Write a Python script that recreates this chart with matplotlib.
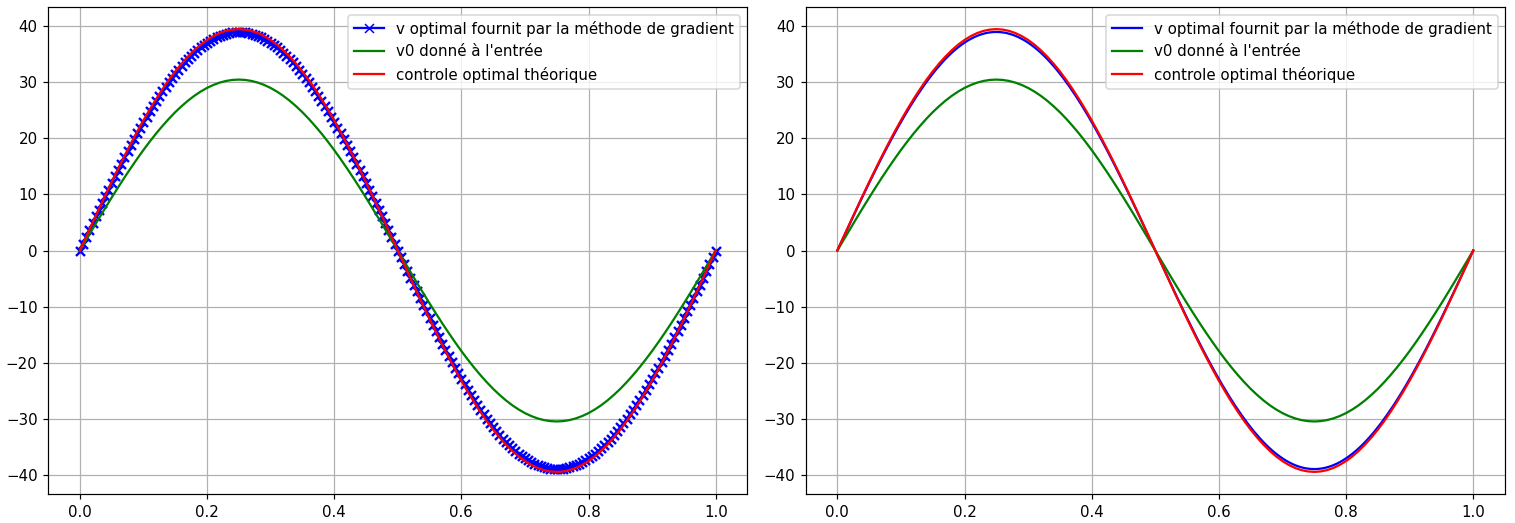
import numpy as np
from matplotlib import pyplot as plt

# abscisses : pas 0.005 pour v optimal, pas 0.01 pour les deux autres
x_fin = np.linspace(0, 1, 201)
x = np.linspace(0, 1, 101)

# v optimal fournit par la methode de gradient
v_opt = [0.0, 1.22, 2.45, 3.67, 4.89, 6.10, 7.31, 8.51, 9.70, 10.88, 12.05, 13.21, 14.36, 15.49, 16.61, 17.71, 18.79, 19.85, 20.90, 21.92, 22.92,
         23.90, 24.86, 25.79, 26.70, 27.58, 28.43, 29.25, 30.05, 30.82, 31.55, 32.26, 32.93, 33.57, 34.18, 34.75, 35.29, 35.79, 36.26, 36.69, 37.09,
         37.45, 37.77, 38.06, 38.31, 38.52, 38.69, 38.83, 38.92, 38.98, 39.00,
         38.98, 38.92, 38.83, 38.69, 38.52, 38.31, 38.06, 37.77, 37.45, 37.09, 36.69, 36.26, 35.79, 35.29, 34.75, 34.18, 33.57, 32.93, 32.26, 31.55,
         30.82, 30.05, 29.25, 28.43, 27.58, 26.70, 25.79, 24.86, 23.90, 22.92, 21.92, 20.90, 19.85, 18.79, 17.71, 16.61, 15.49, 14.36, 13.21, 12.05,
         10.88, 9.70, 8.51, 7.31, 6.10, 4.89, 3.67, 2.45, 1.22, 0.0,
         -1.22, -2.45, -3.67, -4.89, -6.10, -7.31, -8.51, -9.70, -10.88, -12.05, -13.21, -14.36, -15.49, -16.61, -17.71, -18.79, -19.85, -20.90, -21.92, -22.92,
         -23.90, -24.86, -25.79, -26.70, -27.58, -28.43, -29.25, -30.05, -30.82, -31.55, -32.26, -32.93, -33.57, -34.18, -34.75, -35.29, -35.79, -36.26, -36.69, -37.09,
         -37.45, -37.77, -38.06, -38.31, -38.52, -38.69, -38.83, -38.92, -38.98, -39.00,
         -38.98, -38.92, -38.83, -38.69, -38.52, -38.31, -38.06, -37.77, -37.45, -37.09, -36.69, -36.26, -35.79, -35.29, -34.75, -34.18, -33.57, -32.93, -32.26, -31.55,
         -30.82, -30.05, -29.25, -28.43, -27.58, -26.70, -25.79, -24.86, -23.90, -22.92, -21.92, -20.90, -19.85, -18.79, -17.71, -16.61, -15.49, -14.36, -13.21, -12.05,
         -10.88, -9.70, -8.51, -7.31, -6.10, -4.89, -3.67, -2.45, -1.22, 0.0]

# v0 donne a l'entree
v0 = [0.0, 1.92, 3.82, 5.72, 7.59, 9.43, 11.23, 12.99, 14.69, 16.34, 17.93, 19.44, 20.88, 22.23, 23.50, 24.68, 25.75, 26.73, 27.60, 28.36, 29.01, 29.54, 29.96, 30.26, 30.44, 30.50,
      30.44, 30.26, 29.96, 29.54, 29.01, 28.36, 27.60, 26.73, 25.75, 24.68, 23.50, 22.23, 20.88, 19.44, 17.93, 16.34, 14.69, 12.99, 11.23, 9.43, 7.59, 5.72, 3.82, 1.92, 0.0,
      -1.92, -3.82, -5.72, -7.59, -9.43, -11.23, -12.99, -14.69, -16.34, -17.93, -19.44, -20.88, -22.23, -23.50, -24.68, -25.75, -26.73, -27.60, -28.36, -29.01, -29.54, -29.96, -30.26, -30.44, -30.50,
      -30.44, -30.26, -29.96, -29.54, -29.01, -28.36, -27.60, -26.73, -25.75, -24.68, -23.50, -22.23, -20.88, -19.44, -17.93, -16.34, -14.69, -12.99, -11.23, -9.43, -7.59, -5.72, -3.82, -1.92, 0.0]

# controle optimal theorique
u_th = [0.0, 2.48, 4.95, 7.40, 9.82, 12.21, 14.54, 16.82, 19.03, 21.17, 23.22, 25.18, 27.04, 28.79, 30.44, 31.96, 33.35, 34.61, 35.74, 36.73, 37.57, 38.26, 38.80, 39.19, 39.42, 39.50,
        39.42, 39.19, 38.80, 38.26, 37.57, 36.73, 35.74, 34.61, 33.35, 31.96, 30.44, 28.79, 27.04, 25.18, 23.22, 21.17, 19.03, 16.82, 14.54, 12.21, 9.82, 7.40, 4.95, 2.48, 0.0,
        -2.48, -4.95, -7.40, -9.82, -12.21, -14.54, -16.82, -19.03, -21.17, -23.22, -25.18, -27.04, -28.79, -30.44, -31.96, -33.35, -34.61, -35.74, -36.73, -37.57, -38.26, -38.80, -39.19, -39.42, -39.50,
        -39.42, -39.19, -38.80, -38.26, -37.57, -36.73, -35.74, -34.61, -33.35, -31.96, -30.44, -28.79, -27.04, -25.18, -23.22, -21.17, -19.03, -16.82, -14.54, -12.21, -9.82, -7.40, -4.95, -2.48, 0.0]

fig, (ax1, ax2) = plt.subplots(1, 2, figsize=(1515/108, 523/108), dpi=108)
fig.subplots_adjust(left=0.0317, right=0.9934, top=0.9866, bottom=0.0554, wspace=0.083)

line, = ax1.plot(x_fin, v_opt, 'bx-', markeredgewidth=1.6, label="v optimal fournit par la méthode de gradient")
ax1.plot(x, v0, 'g', label="v0 donné à l'entrée")
ax1.plot(x, u_th, 'r', label="controle optimal théorique")
ax1.grid()
leg = ax1.legend(loc='upper right')
leg.legend_handles[0].set_markeredgewidth(1)

ax2.plot(x_fin, v_opt, 'b', label="v optimal fournit par la méthode de gradient")
ax2.plot(x, v0, 'g', label="v0 donné à l'entrée")
ax2.plot(x, u_th, 'r', label="controle optimal théorique")
ax2.grid()
ax2.legend(loc='upper right')

plt.savefig('out.png', dpi=108)
